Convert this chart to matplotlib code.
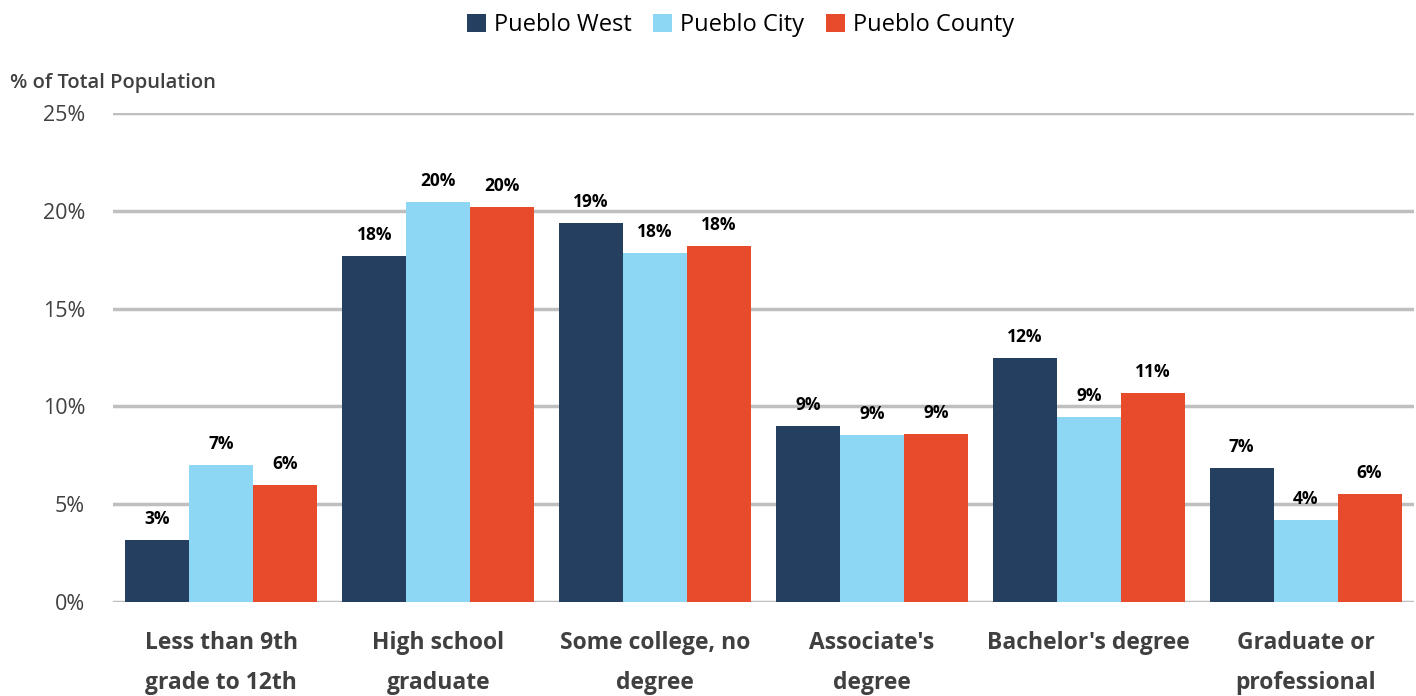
import numpy as np
import matplotlib.pyplot as plt

categories = ["Less than 9th\ngrade to 12th", "High school\ngraduate", "Some college, no\ndegree",
              "Associate's\ndegree", "Bachelor's degree", "Graduate or\nprofessional"]
series_names = ["Pueblo West", "Pueblo City", "Pueblo County"]
pueblo_west = [3.17, 17.69, 19.38, 9.0, 12.47, 6.85]
pueblo_city = [7.0, 20.45, 17.84, 8.54, 9.46, 4.19]
pueblo_county = [5.98, 20.19, 18.2, 8.59, 10.69, 5.52]
y_ticks = [0, 5, 10, 15, 20, 25]

colors = ["#243F60", "#8DD7F5", "#E84B2C"]
font = ["Open Sans", "DejaVu Sans"]
plt.rcParams['font.family'] = font

fig = plt.figure(figsize=(14.16, 6.96), dpi=100)
ax = fig.add_axes([0.0798, 0.135, 0.9188, 0.7026])

x = np.arange(len(categories))
w = 0.295
for i, (name, vals) in enumerate(zip(series_names, [pueblo_west, pueblo_city, pueblo_county])):
    bars = ax.bar(x + (i - 1) * w, vals, width=w, color=colors[i], label=name, zorder=3)
    for b, v in zip(bars, vals):
        ax.text(b.get_x() + b.get_width() / 2, v + 0.6, f"{round(v):.0f}%", ha="center", va="bottom",
                fontsize=12.5, fontweight="bold", color="black", zorder=4)

ax.set_ylim(0, 25)
ax.set_xlim(-0.5, len(categories) - 0.5)
ax.set_yticks(y_ticks)
ax.set_yticklabels([f"{t}%" for t in y_ticks], fontsize=15.5, color="#404040")
ax.yaxis.grid(True, color="#BFBFBF", linewidth=2.5, zorder=0)
ax.set_xticks(x)
ax.set_xticklabels(categories, fontsize=16.5, fontweight="bold", color="#404040", linespacing=1.85, va="top")
ax.tick_params(axis="both", length=0)
ax.tick_params(axis="x", pad=21)
ax.tick_params(axis="y", pad=20)
for s in ax.spines.values():
    s.set_visible(False)

fig.text(0.007, 0.873, "% of Total Population", fontsize=14.5, color="#404040", fontweight="semibold")
fig.legend(loc="upper center", bbox_to_anchor=(0.523, 1.012), ncol=3, frameon=False, fontsize=17,
           handlelength=0.8, handleheight=0.8, handletextpad=0.35, columnspacing=0.9)

fig.savefig("out.png", dpi=100)
